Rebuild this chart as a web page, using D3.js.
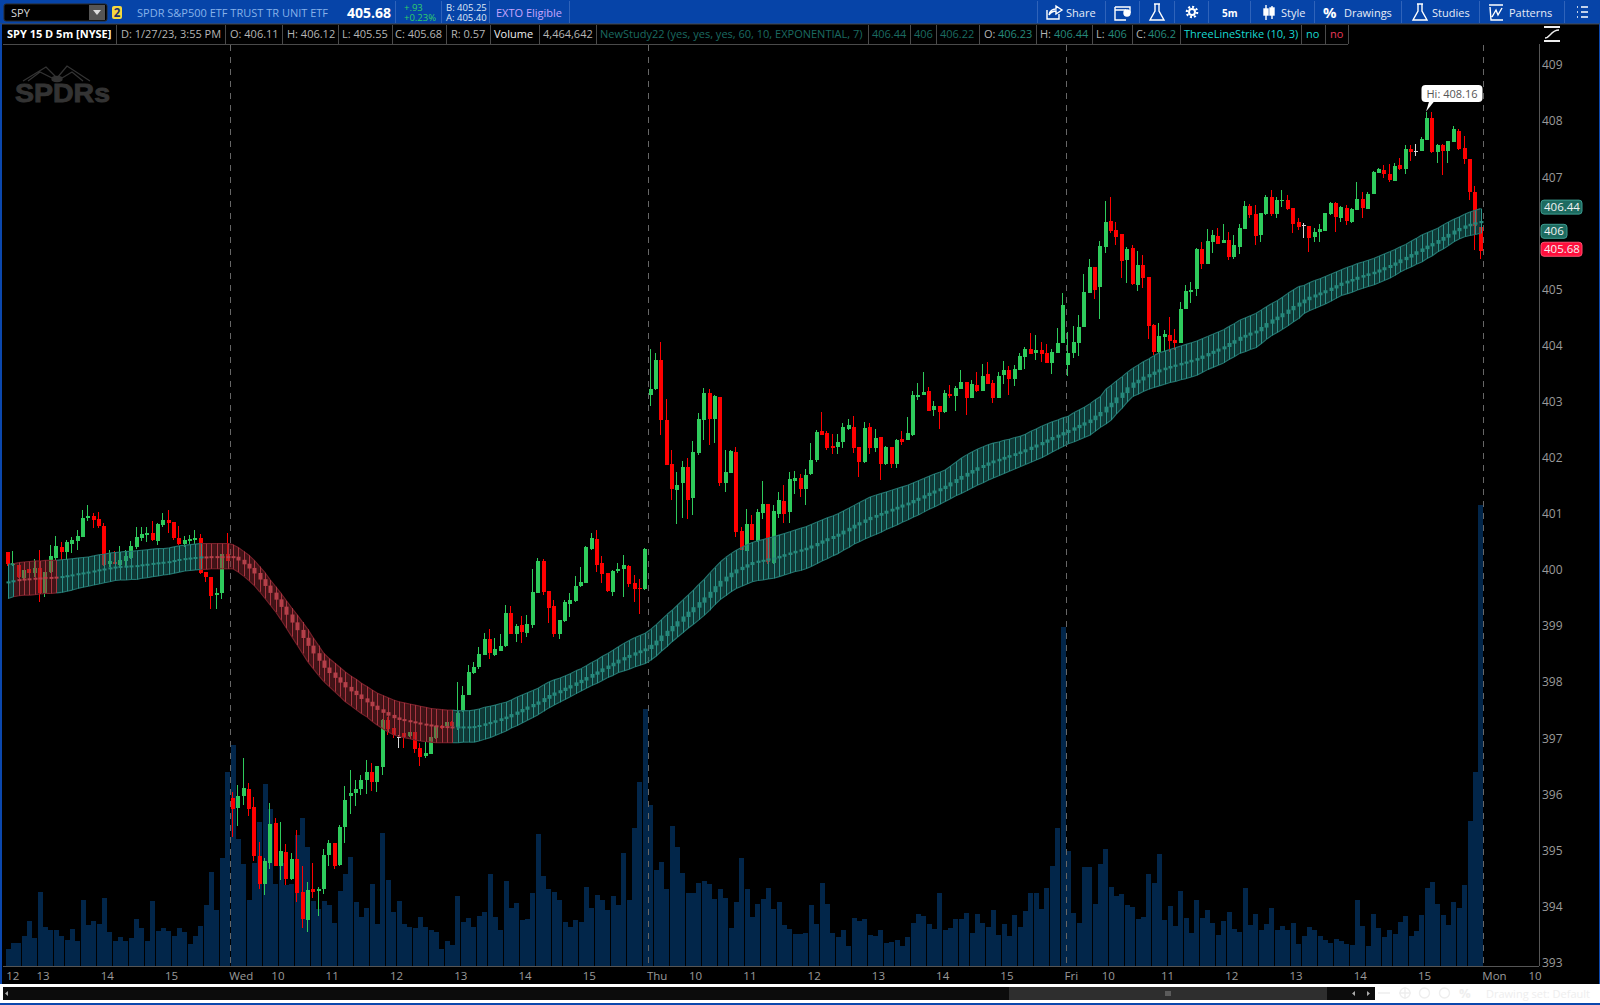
<!DOCTYPE html>
<html>
<head>
<meta charset="utf-8">
<title>SPY 15 D 5m</title>
<script src="https://cdn.jsdelivr.net/npm/d3@7"></script>
<style>
  html, body { margin: 0; padding: 0; background: #000; overflow: hidden; }
  text { font-family: "Open Sans", sans-serif; }
</style>
</head>
<body>
<div id="chart"></div>
<script>
// 5 minute bars, Tuesday afternoon through Friday close
var opens = [
  400.32,400.08,400.09,399.85,400.01,399.94,400.04,399.58,399.97,400.22,
  400.40,400.32,400.46,400.51,400.58,400.92,400.96,400.91,400.78,400.10,
  400.14,400.08,400.15,400.21,400.41,400.57,400.62,400.66,400.51,400.80,
  400.89,400.85,400.57,400.46,400.51,400.53,400.57,399.96,399.87,399.55,
  399.59,400.28,395.94,395.75,395.97,396.09,395.77,394.90,394.40,394.77,
  395.48,394.72,394.97,394.49,394.84,394.26,393.76,394.31,394.27,394.31,
  394.91,395.13,394.74,395.41,395.97,396.02,396.09,396.25,396.39,396.22,
  396.49,397.32,397.19,397.03,397.09,397.04,397.11,396.82,396.68,396.72,
  397.00,397.22,397.22,397.29,397.20,397.49,397.77,398.16,398.27,398.48,
  398.77,398.49,398.55,398.64,399.23,398.85,399.02,398.87,399.02,399.59,
  400.16,399.62,399.35,398.85,399.09,399.39,399.44,399.71,399.76,400.37,
  400.55,400.12,399.94,399.60,399.98,400.01,400.07,399.76,399.67,399.66,
  403.11,403.22,403.74,402.67,401.88,401.42,401.55,401.83,401.28,402.08,
  402.67,403.15,402.69,403.08,401.55,401.72,402.10,400.69,400.33,400.81,
  400.51,401.01,401.17,400.13,401.00,401.22,401.03,401.58,401.63,401.44,
  401.71,401.96,402.47,402.44,402.20,402.19,402.28,402.52,402.54,402.19,
  401.92,402.54,402.17,402.37,401.88,402.19,401.88,402.33,402.32,402.41,
  403.08,403.12,403.19,402.85,402.92,402.82,403.14,403.10,403.23,403.35,
  403.07,403.30,403.19,403.49,403.34,403.07,403.47,403.56,403.40,403.56,
  403.80,403.94,403.87,403.92,403.87,403.69,403.87,404.05,403.65,403.87,
  404.05,404.33,404.94,405.40,405.04,405.76,406.22,406.06,405.99,405.52,
  405.74,405.08,405.44,405.22,404.37,403.88,404.15,404.19,404.10,404.05,
  404.65,404.95,405.01,405.72,405.45,405.85,405.95,405.83,405.88,405.58,
  405.76,406.08,406.49,406.34,405.97,406.34,406.65,406.34,406.58,406.59,
  406.45,406.20,406.15,406.13,405.93,406.02,406.04,406.34,406.54,406.27,
  406.45,406.20,406.41,406.61,406.43,406.70,407.07,407.13,407.06,406.93,
  407.22,407.15,407.50,407.47,407.47,407.66,408.05,407.45,407.57,407.47,
  407.63,407.82,407.52,407.32,406.74,406.11
];
var highs = [
  400.32,400.33,400.09,400.00,400.01,400.19,400.35,399.96,400.44,400.60,
  400.50,400.53,400.58,400.71,401.07,401.15,401.01,401.04,400.83,400.35,
  400.33,400.42,400.36,400.51,400.76,400.76,400.76,400.88,400.83,401.01,
  401.07,400.85,400.79,400.60,400.63,400.72,400.64,399.96,399.87,399.67,
  400.28,400.65,396.04,396.16,396.65,396.21,395.96,395.15,394.87,395.85,
  395.57,395.50,395.12,394.96,395.37,394.73,394.43,394.78,394.34,395.03,
  395.19,395.13,395.46,396.14,396.43,396.26,396.34,396.62,396.55,396.50,
  397.35,397.38,397.19,397.05,397.09,397.11,397.11,396.91,396.93,397.02,
  397.22,397.23,397.29,397.30,398.00,397.93,398.31,398.36,398.63,398.88,
  398.94,398.79,398.85,399.37,399.35,399.03,399.18,399.19,400.01,400.21,
  400.19,399.62,399.47,399.10,399.46,399.59,399.90,400.05,400.43,400.65,
  400.71,400.24,399.94,400.00,400.13,400.27,400.08,399.91,399.83,400.39,
  403.93,403.87,404.07,403.05,402.13,401.75,401.94,402.00,402.29,402.79,
  403.25,403.23,403.11,403.08,402.13,402.13,402.19,400.76,401.08,400.98,
  401.08,401.59,401.17,401.15,401.38,401.52,401.74,401.76,401.71,401.79,
  402.27,402.50,402.82,402.48,402.43,402.43,402.62,402.69,402.75,402.19,
  402.64,402.61,402.52,402.37,402.20,402.19,402.33,402.47,402.72,403.19,
  403.33,403.52,403.26,403.01,402.92,403.20,403.29,403.28,403.56,403.35,
  403.39,403.52,403.67,403.71,403.39,403.52,403.73,403.64,403.65,403.87,
  403.98,404.22,404.19,404.07,404.03,403.94,404.31,404.93,404.24,404.35,
  404.54,405.27,405.54,405.40,405.86,406.58,406.64,406.21,405.99,405.75,
  405.79,405.69,405.61,405.22,404.38,404.40,404.28,404.50,404.29,404.78,
  405.07,405.14,405.74,405.84,406.07,406.06,406.09,406.16,406.02,405.97,
  406.16,406.57,406.52,406.50,406.37,406.68,406.77,406.65,406.77,406.68,
  406.45,406.27,406.18,406.13,406.09,406.17,406.37,406.55,406.55,406.49,
  406.50,406.45,406.91,406.73,406.74,407.11,407.16,407.22,407.23,407.26,
  407.34,407.57,407.57,407.59,407.72,408.17,408.17,407.60,407.59,407.64,
  407.91,407.86,407.73,407.32,406.84,406.12
];
var lows = [
  400.07,400.07,399.85,399.84,399.94,399.88,399.43,399.51,399.95,400.17,
  400.17,400.17,400.31,400.36,400.58,400.88,400.75,400.74,400.07,400.06,
  400.10,400.04,400.06,400.19,400.38,400.51,400.50,400.52,400.45,400.77,
  400.66,400.53,400.45,400.41,400.46,400.47,399.92,399.79,399.30,399.30,
  399.48,400.16,395.23,395.44,395.81,395.62,394.81,394.31,394.21,394.67,
  394.72,394.47,394.38,394.47,394.08,393.61,393.55,394.15,393.83,394.22,
  394.72,394.66,394.72,395.13,395.64,395.79,395.99,396.00,396.06,396.04,
  396.34,397.05,397.01,396.83,396.83,397.03,396.74,396.51,396.65,396.71,
  396.98,397.17,397.22,397.21,397.15,397.47,397.77,398.15,398.24,398.48,
  398.42,398.47,398.55,398.63,398.85,398.72,398.69,398.81,398.97,399.59,
  399.56,399.06,398.80,398.77,399.07,399.16,399.42,399.70,399.76,400.35,
  399.97,399.77,399.60,399.53,399.94,399.51,399.70,399.43,399.22,399.65,
  402.92,403.21,402.41,401.87,401.24,400.81,400.92,400.90,400.97,402.04,
  402.31,402.23,402.26,401.49,401.39,401.72,400.58,400.35,400.33,400.53,
  400.50,400.90,400.11,400.11,400.93,400.83,400.84,401.36,401.30,401.15,
  401.69,401.93,402.40,402.13,402.07,402.06,402.18,402.50,402.09,401.65,
  401.90,402.07,402.10,401.60,401.87,401.81,401.81,402.23,402.32,402.38,
  403.02,403.12,402.83,402.74,402.51,402.79,403.06,402.84,403.22,402.77,
  403.06,403.18,403.19,403.31,402.97,403.06,403.31,403.12,403.27,403.56,
  403.59,403.85,403.74,403.71,403.68,403.49,403.86,404.04,403.45,403.77,
  403.82,404.33,404.93,404.82,404.48,405.64,406.01,405.79,405.20,405.11,
  405.08,404.98,405.02,404.11,403.83,403.87,403.89,403.89,403.92,404.04,
  404.65,404.75,404.89,405.37,405.45,405.64,405.81,405.82,405.52,405.54,
  405.63,406.07,406.27,405.80,405.85,406.33,406.31,406.28,406.46,406.41,
  406.00,406.05,405.92,405.66,405.84,405.84,406.04,406.33,406.02,406.20,
  406.14,406.18,406.41,406.27,406.43,406.70,407.07,406.99,406.92,406.93,
  407.13,407.06,407.29,407.37,407.47,407.66,407.43,407.25,407.04,407.25,
  407.63,407.48,407.23,406.59,405.70,405.55
];
var closes = [
  400.10,400.12,399.88,400.00,399.95,400.04,399.58,399.96,400.25,400.42,
  400.32,400.50,400.53,400.60,400.92,400.96,400.89,400.78,400.09,400.16,
  400.11,400.17,400.25,400.42,400.58,400.64,400.66,400.53,400.82,400.89,
  400.83,400.57,400.46,400.53,400.55,400.57,399.94,399.87,399.53,399.59,
  400.28,400.16,395.74,395.97,396.11,395.74,394.90,394.40,394.81,395.47,
  394.72,394.99,394.49,394.84,394.24,393.77,394.29,394.26,394.31,394.91,
  395.13,394.72,395.41,395.89,396.02,396.09,396.26,396.39,396.22,396.50,
  397.32,397.17,397.06,397.03,397.03,397.11,396.81,396.66,396.73,397.02,
  397.22,397.18,397.29,397.22,397.45,397.77,398.18,398.27,398.50,398.77,
  398.51,398.59,398.64,399.23,398.85,399.00,398.89,399.03,399.60,400.16,
  399.60,399.32,398.85,399.10,399.42,399.46,399.71,399.78,400.40,400.57,
  400.08,399.92,399.62,399.98,400.01,400.08,399.75,399.66,399.66,400.37,
  403.22,403.74,402.67,401.87,401.44,401.51,401.83,401.24,402.10,402.69,
  403.15,402.69,403.10,401.55,401.74,402.12,400.67,400.35,400.81,400.53,
  401.03,401.17,400.14,401.05,401.24,401.00,401.62,401.63,401.44,401.69,
  401.96,402.45,402.40,402.17,402.17,402.28,402.54,402.58,402.17,401.92,
  402.53,402.17,402.35,401.88,402.19,401.88,402.31,402.28,402.44,403.12,
  403.12,403.17,402.83,402.92,402.82,403.15,403.10,403.24,403.35,403.07,
  403.31,403.19,403.46,403.31,403.07,403.46,403.56,403.40,403.58,403.81,
  403.94,403.85,403.92,403.85,403.69,403.88,404.05,404.72,403.87,404.06,
  404.33,404.95,405.40,404.99,405.77,406.20,406.04,405.93,405.51,405.72,
  405.10,405.44,405.20,404.35,403.88,404.17,404.21,404.08,404.05,404.65,
  404.97,404.99,405.72,405.45,405.86,405.97,405.81,405.88,405.58,405.79,
  406.10,406.49,406.33,405.95,406.36,406.65,406.34,406.59,406.59,406.43,
  406.17,406.11,406.15,405.92,406.02,406.08,406.36,406.54,406.29,406.47,
  406.22,406.43,406.61,406.45,406.70,407.09,407.15,407.06,406.95,407.20,
  407.15,407.50,407.45,407.47,407.68,408.05,407.45,407.57,407.47,407.64,
  407.86,407.50,407.32,406.74,406.13,405.68
];
// volume per bar, thousands of shares
var volumes = [
  165,223,223,291,436,271,717,378,349,349,
  291,252,358,242,639,397,436,407,659,329,
  242,281,242,271,455,368,242,629,339,368,
  339,291,368,329,213,291,387,591,910,542,
  1046,1879,2140,1230,988,639,997,1395,1762,1520,
  794,997,784,794,1269,1433,1152,629,552,629,
  591,416,726,891,1056,620,475,562,794,407,
  1288,833,523,629,407,378,368,475,378,349,
  329,165,242,203,678,426,465,378,484,523,
  891,475,349,823,562,610,445,455,707,1278,
  872,746,717,639,426,378,445,426,765,562,
  688,639,542,678,591,1094,639,1336,1782,2489,
  1559,930,1007,746,1356,1152,901,707,707,804,
  823,794,649,746,659,368,620,1046,746,475,
  600,649,755,552,620,397,358,310,310,320,
  591,407,804,600,320,281,349,194,465,436,
  455,300,291,349,223,232,252,194,281,416,
  504,484,407,358,707,349,368,455,455,513,
  320,504,416,378,542,300,407,291,494,378,
  533,707,707,552,755,968,1336,3283,1114,513,
  416,959,959,600,988,1133,765,678,697,591,
  571,455,475,891,804,1085,445,581,387,726,
  465,320,639,465,542,416,300,436,523,358,
  329,755,397,504,349,407,562,349,387,349,
  416,213,291,378,349,291,252,223,261,242,
  213,203,639,387,194,504,368,281,349,310,
  426,484,291,339,494,755,813,600,494,397,
  620,562,784,1404,1879,4465
];
// NewStudy22 band, high and low of the smoothed average
var bandUpper = [
  400.10,400.11,400.13,400.14,400.15,400.16,400.16,400.17,400.17,400.17,
  400.18,400.19,400.20,400.21,400.22,400.23,400.25,400.27,400.28,400.30,
  400.31,400.32,400.33,400.33,400.34,400.35,400.36,400.37,400.38,400.38,
  400.39,400.41,400.43,400.44,400.45,400.46,400.47,400.47,400.47,400.47,
  400.47,400.47,400.45,400.40,400.33,400.26,400.17,400.06,399.95,399.82,
  399.70,399.58,399.45,399.32,399.20,399.07,398.94,398.79,398.65,398.51,
  398.42,398.34,398.26,398.18,398.11,398.05,397.98,397.92,397.86,397.80,
  397.76,397.72,397.68,397.65,397.63,397.61,397.59,397.57,397.55,397.53,
  397.52,397.51,397.50,397.50,397.49,397.49,397.49,397.50,397.52,397.55,
  397.57,397.59,397.62,397.64,397.68,397.73,397.77,397.81,397.85,397.89,
  397.95,398.00,398.04,398.07,398.11,398.15,398.20,398.24,398.29,398.35,
  398.40,398.46,398.51,398.57,398.63,398.69,398.74,398.79,398.83,398.87,
  398.94,399.02,399.11,399.20,399.28,399.37,399.46,399.55,399.64,399.74,
  399.83,399.94,400.04,400.14,400.22,400.29,400.35,400.40,400.45,400.49,
  400.52,400.54,400.57,400.59,400.62,400.65,400.68,400.71,400.74,400.77,
  400.81,400.85,400.89,400.93,400.96,401.00,401.05,401.10,401.15,401.20,
  401.25,401.30,401.33,401.36,401.39,401.42,401.45,401.48,401.51,401.55,
  401.59,401.63,401.67,401.71,401.74,401.78,401.85,401.92,401.99,402.05,
  402.10,402.15,402.19,402.23,402.26,402.28,402.31,402.33,402.36,402.38,
  402.42,402.47,402.51,402.56,402.60,402.64,402.67,402.71,402.74,402.80,
  402.85,402.90,402.96,403.03,403.09,403.22,403.29,403.37,403.44,403.52,
  403.59,403.65,403.71,403.76,403.82,403.87,403.90,403.93,403.96,403.99,
  404.02,404.05,404.08,404.12,404.16,404.20,404.24,404.28,404.34,404.39,
  404.45,404.49,404.53,404.57,404.63,404.69,404.75,404.80,404.86,404.93,
  404.99,405.05,405.07,405.12,405.16,405.19,405.23,405.27,405.31,405.35,
  405.39,405.42,405.46,405.49,405.52,405.55,405.59,405.63,405.67,405.71,
  405.76,405.80,405.86,405.91,405.97,406.01,406.05,406.09,406.15,406.20,
  406.25,406.29,406.34,406.38,406.41,406.44
];
var bandLower = [
  399.49,399.52,399.54,399.55,399.55,399.56,399.57,399.58,399.58,399.59,
  399.60,399.62,399.64,399.67,399.69,399.71,399.73,399.75,399.77,399.79,
  399.81,399.82,399.82,399.83,399.83,399.85,399.86,399.88,399.89,399.91,
  399.92,399.94,399.96,399.98,399.99,400.00,400.01,400.01,400.02,400.02,
  400.02,400.02,400.02,399.96,399.89,399.81,399.72,399.61,399.49,399.37,
  399.25,399.11,398.96,398.81,398.66,398.51,398.36,398.24,398.12,398.01,
  397.92,397.83,397.74,397.65,397.58,397.51,397.44,397.38,397.30,397.23,
  397.17,397.11,397.06,397.03,397.01,396.99,396.97,396.95,396.94,396.93,
  396.92,396.92,396.92,396.92,396.92,396.93,396.93,396.93,396.95,396.98,
  397.01,397.05,397.09,397.13,397.18,397.22,397.27,397.32,397.37,397.42,
  397.48,397.54,397.59,397.64,397.69,397.74,397.79,397.84,397.89,397.94,
  397.98,398.03,398.08,398.12,398.17,398.20,398.23,398.27,398.30,398.33,
  398.39,398.46,398.55,398.63,398.72,398.80,398.88,398.96,399.03,399.11,
  399.19,399.28,399.38,399.47,399.54,399.61,399.67,399.71,399.75,399.79,
  399.81,399.82,399.84,399.85,399.88,399.91,399.94,399.97,399.99,400.02,
  400.06,400.11,400.16,400.20,400.25,400.29,400.35,400.40,400.46,400.50,
  400.55,400.59,400.63,400.67,400.72,400.76,400.80,400.85,400.89,400.94,
  400.98,401.03,401.08,401.12,401.17,401.22,401.27,401.32,401.36,401.41,
  401.46,401.51,401.55,401.60,401.64,401.68,401.72,401.76,401.80,401.84,
  401.88,401.92,401.96,402.00,402.05,402.10,402.15,402.20,402.25,402.28,
  402.32,402.36,402.40,402.47,402.54,402.60,402.67,402.78,402.88,402.99,
  403.09,403.13,403.18,403.22,403.25,403.28,403.31,403.34,403.36,403.39,
  403.41,403.44,403.47,403.52,403.57,403.61,403.65,403.69,403.75,403.80,
  403.86,403.89,403.93,403.96,404.03,404.11,404.18,404.23,404.29,404.35,
  404.42,404.48,404.57,404.62,404.66,404.70,404.74,404.79,404.84,404.89,
  404.92,404.95,404.99,405.02,405.05,405.08,405.12,405.16,405.20,405.25,
  405.31,405.36,405.40,405.45,405.49,405.55,405.60,405.67,405.72,405.78,
  405.85,405.90,405.94,405.96,405.98,406.00
];
// runs of bars where the band is falling (drawn red), first and last bar
var bandFalling = [[2, 9], [37, 83]];

// right axis and bottom time axis, 406 is hidden by the bubble so it's left out
var priceTicks = [393,394,395,396,397,398,399,400,401,402,403,404,405,407,408,409];
var timeTickBars = [-6,6,18,30,42,48,60,72,84,96,108,120,126,138,150,162,174,186,198,204,216,228,240,252,264,276,282];
var timeTickLabels = ["12","13","14","15","Wed","10","11","12","13","14","15","Thu","10","11","12","13","14","15","Fri","10","11","12","13","14","15","Mon","10"];
var sessionStarts = [42, 120, 198, 276];

// header strip and the study readout row
var headerCells = [
  { x: 7, t: "SPY 15 D 5m [NYSE]", c: "#fff", b: 1 },
  { x: 121, t: "D: 1/27/23, 3:55 PM", c: "#b5b5b5" },
  { x: 230, t: "O: 406.11", c: "#b5b5b5" },
  { x: 287, t: "H: 406.12", c: "#b5b5b5" },
  { x: 342, t: "L: 405.55", c: "#b5b5b5" },
  { x: 395, t: "C: 405.68", c: "#b5b5b5" },
  { x: 451, t: "R: 0.57", c: "#b5b5b5" },
  { x: 494, t: "Volume", c: "#eee" },
  { x: 543, t: "4,464,642", c: "#b5b5b5" },
  { x: 600, t: "NewStudy22 (yes, yes, yes, 60, 10, EXPONENTIAL, 7)", c: "#1b6a60" },
  { x: 872, t: "406.44", c: "#1b6a60" },
  { x: 914, t: "406", c: "#1b6a60" },
  { x: 940, t: "406.22", c: "#1b6a60" },
  { x: 984, t: "O:", c: "#b5b5b5" },
  { x: 998, t: "406.23", c: "#26897c" },
  { x: 1040, t: "H:", c: "#b5b5b5" },
  { x: 1054, t: "406.44", c: "#26897c" },
  { x: 1096, t: "L:", c: "#b5b5b5" },
  { x: 1108, t: "406", c: "#26897c" },
  { x: 1136, t: "C:", c: "#b5b5b5" },
  { x: 1148, t: "406.2", c: "#26897c" },
  { x: 1184, t: "ThreeLineStrike (10, 3)", c: "#19d8d2" },
  { x: 1306, t: "no", c: "#19d8d2" },
  { x: 1330, t: "no", c: "#e8385a" }
];
var headerSeps = [116,225,282,338,392,446,490,539,596,868,910,936,979,1036,1092,1132,1180,1301,1325,1348];
var toolbarSeps = [395,441,489,569,1037,1105,1139,1174,1208,1250,1314,1401,1479,1564];
var toolbarLabels = [
  { x: 1066, t: "Share" }, { x: 1281, t: "Style" }, { x: 1344, t: "Drawings" },
  { x: 1432, t: "Studies" }, { x: 1509, t: "Patterns" }
];

var svgWidth = 1600;
var svgHeight = 1005;
var svg = d3.select("#chart").append("svg")
  .attr("width", svgWidth)
  .attr("height", svgHeight)
  .style("display", "block")
  .style("background", "#000");

var barIndex = d3.range(opens.length);
var xScale = d3.scaleLinear().domain([0, 276]).range([8, 8 + 5.355 * 276]);
var yScale = d3.scaleLinear().domain([393, 409]).range([962.6, 65]);
// last volume bar (4,464,642) tops out at y=505
var volScale = d3.scaleLinear().domain([0, 4465]).range([966, 505]);

// volume first so it sits behind everything
svg.append("g").attr("shape-rendering", "crispEdges")
  .selectAll("rect").data(barIndex).enter().append("rect")
  .attr("x", d => Math.round(xScale(d) - 2.4))
  .attr("width", 5)
  .attr("y", d => volScale(volumes[d]))
  .attr("height", d => 966 - volScale(volumes[d]))
  .attr("fill", "#02264a");

// session dividers
svg.append("g").selectAll("line").data(sessionStarts).enter().append("line")
  .attr("x1", d => Math.round(xScale(d - 0.5)) + 0.5).attr("x2", d => Math.round(xScale(d - 0.5)) + 0.5)
  .attr("y1", 45).attr("y2", 966)
  .attr("stroke", "#666").attr("stroke-width", 1)
  .attr("stroke-dasharray", "6,6");

// candles
function candleColor(d) {
  if (opens[d] === closes[d]) return "#d8d8d8";
  return closes[d] > opens[d] ? "#2ecb5c" : "#ff0000";
}
var candles = svg.append("g").attr("shape-rendering", "crispEdges");
candles.selectAll("line").data(barIndex).enter().append("line")
  .attr("x1", d => Math.round(xScale(d) - 2) + 1.5).attr("x2", d => Math.round(xScale(d) - 2) + 1.5)
  .attr("y1", d => yScale(highs[d])).attr("y2", d => yScale(lows[d]))
  .attr("stroke", candleColor).attr("stroke-width", 1);
candles.selectAll("rect").data(barIndex).enter().append("rect")
  .attr("x", d => Math.round(xScale(d) - 2))
  .attr("width", 4)
  .attr("y", d => yScale(Math.max(opens[d], closes[d])))
  .attr("height", d => Math.max(1, Math.abs(yScale(opens[d]) - yScale(closes[d]))))
  .attr("fill", candleColor);

// band: cloud, outline, one rib per bar, small marker on the midpoint
function isFalling(d) {
  return bandFalling.some(r => d >= r[0] && d <= r[1]);
}
var bandMid = barIndex.map(d => (bandUpper[d] + bandLower[d]) / 2);
var teal = { fill: "#1f7a72", edge: "#25756f", rib: "#2b9088", mark: "#26897c" };
var red = { fill: "#8a2730", edge: "#77202a", rib: "#a83540", mark: "#b5404a" };

var bandArea = d3.area()
  .x(d => xScale(d))
  .y0(d => yScale(bandLower[d]))
  .y1(d => yScale(bandUpper[d]));
var upperLine = d3.line().x(d => xScale(d)).y(d => yScale(bandUpper[d]));
var lowerLine = d3.line().x(d => xScale(d)).y(d => yScale(bandLower[d]));

var bandG = svg.append("g");
barIndex.slice(1).forEach(function(d) {
  var pal = isFalling(d) ? red : teal;
  var seg = [d - 1, d];
  bandG.append("path").attr("d", bandArea(seg))
    .attr("fill", pal.fill).attr("fill-opacity", 0.48);
  bandG.append("path").attr("d", upperLine(seg))
    .attr("fill", "none").attr("stroke", pal.edge).attr("stroke-width", 1.1);
  bandG.append("path").attr("d", lowerLine(seg))
    .attr("fill", "none").attr("stroke", pal.edge).attr("stroke-width", 1.1);
});
bandG.selectAll("line.rib").data(barIndex).enter().append("line")
  .attr("class", "rib")
  .attr("x1", d => Math.round(xScale(d)) + 0.5).attr("x2", d => Math.round(xScale(d)) + 0.5)
  .attr("y1", d => yScale(bandUpper[d])).attr("y2", d => yScale(bandLower[d]))
  .attr("stroke", d => isFalling(d) ? red.rib : teal.rib)
  .attr("stroke-width", 1);
bandG.selectAll("rect.mark").data(barIndex).enter().append("rect")
  .attr("class", "mark")
  .attr("x", d => Math.round(xScale(d)) - 1.5)
  .attr("width", 4)
  .attr("y", d => {
    var prev = d > 0 ? bandMid[d - 1] : bandMid[d];
    return yScale(Math.max(prev, bandMid[d]));
  })
  .attr("height", d => {
    var prev = d > 0 ? bandMid[d - 1] : bandMid[d];
    return Math.max(2, Math.abs(yScale(prev) - yScale(bandMid[d])) * 0.9 + 1);
  })
  .attr("fill", d => isFalling(d) ? red.mark : teal.mark);

// price axis
var rightAxis = d3.axisRight(yScale).tickValues(priceTicks).tickSize(0).tickPadding(3).tickFormat(d3.format("d"));
var axisG = svg.append("g").attr("transform", "translate(1539,0)").call(rightAxis);
axisG.select(".domain").attr("stroke", "#555").attr("d", "M0.5,44V966");
axisG.selectAll("text").attr("fill", "#9a9a9a").attr("font-size", 12).style("font-family", '"Open Sans", sans-serif');

// time axis, labels get nudged where they would collide
svg.append("line").attr("x1", 3).attr("x2", 1539).attr("y1", 966.5).attr("y2", 966.5).attr("stroke", "#555");
var labelNudge = { 0: 33, 5: 9, 12: 9, 19: 4, 26: 13 };
svg.append("g").selectAll("text").data(timeTickLabels).enter().append("text")
  .attr("x", (d, i) => xScale(timeTickBars[i] - 0.5) + (labelNudge[i] || -1))
  .attr("y", 980)
  .attr("fill", "#9a9a9a")
  .attr("font-size", 11.5)
  .text(d => d);

// bubbles on the price axis
var bubbles = [
  { v: 406.44, t: "406.44", w: 41, fill: "#1d6b60", nudge: -1.5 },
  { v: 406, t: "406", w: 26, fill: "#1d6b60", nudge: -2 },
  { v: 405.68, t: "405.68", w: 41, fill: "#ff0f3c", nudge: -2 }
];
bubbles.forEach(function(b) {
  var cy = yScale(b.v) + b.nudge;
  svg.append("rect").attr("x", 1541).attr("y", cy - 7).attr("width", b.w).attr("height", 14)
    .attr("rx", 3).attr("fill", b.fill).attr("stroke", b.fill === "#ff0f3c" ? "#ff5070" : "#3c9d90");
  svg.append("text").attr("x", 1544).attr("y", cy + 4).attr("fill", "#f2f2f2").attr("font-size", 11.5).text(b.t);
});

// high callout on the top wick
var hiBar = 265;
var hiX = xScale(hiBar) - 1, hiY = yScale(highs[hiBar]);
svg.append("path")
  .attr("d", `M${hiX},${hiY} L${hiX + 3},${hiY - 10} L${hiX + 8},${hiY - 10} Z`)
  .attr("fill", "#fff");
svg.append("rect").attr("x", 1421.5).attr("y", 85).attr("width", 61).attr("height", 17).attr("rx", 4).attr("fill", "#fff");
svg.append("text").attr("x", 1452).attr("y", 97.5).attr("text-anchor", "middle")
  .attr("font-size", 11).attr("fill", "#555").text("Hi: 408.16");

// SPDRs watermark
var mark = svg.append("g").attr("stroke", "#333").attr("stroke-width", 1.3).attr("fill", "none");
mark.append("path").attr("d", "M57,78 L46,67 L23,81 M52,78 L40,72 L28,81 M57,78 L67,66 L90,81 M62,78 L72,72 L83,81");
mark.append("ellipse").attr("cx", 57).attr("cy", 79).attr("rx", 5).attr("ry", 2.5).attr("fill", "#333");
svg.append("text").attr("x", 15).attr("y", 102)
  .style("font-family", '"Liberation Sans", sans-serif').attr("font-weight", 700).attr("font-size", 26)
  .attr("textLength", 95).attr("lengthAdjust", "spacingAndGlyphs")
  .attr("fill", "#333").attr("stroke", "#333").attr("stroke-width", 0.9).text("SPDRs");

// readout row
var row = svg.append("g");
row.append("rect").attr("x", 0).attr("y", 24).attr("width", 1539).attr("height", 21).attr("fill", "#000");
row.append("line").attr("x1", 3).attr("x2", 1348).attr("y1", 44.5).attr("y2", 44.5).attr("stroke", "#4a4a4a");
row.selectAll("line.sep").data(headerSeps).enter().append("line").attr("class", "sep")
  .attr("x1", d => d + 0.5).attr("x2", d => d + 0.5).attr("y1", 25).attr("y2", 44)
  .attr("stroke", "#4a4a4a");
row.selectAll("text").data(headerCells).enter().append("text")
  .attr("x", d => d.x).attr("y", 38)
  .attr("font-size", 11)
  .attr("font-weight", d => d.b ? 700 : 400)
  .attr("fill", d => d.c)
  .text(d => d.t);

// toolbar
var bar = svg.append("g");
bar.append("rect").attr("x", 0).attr("y", 0).attr("width", 1600).attr("height", 24).attr("fill", "#0644a8");
bar.append("line").attr("x1", 0).attr("x2", 1600).attr("y1", 24).attr("y2", 24).attr("stroke", "#4b4b4b");
bar.selectAll("line.sep").data(toolbarSeps).enter().append("line").attr("class", "sep")
  .attr("x1", d => d + 0.5).attr("x2", d => d + 0.5).attr("y1", 1).attr("y2", 23)
  .attr("stroke", "#2f63ba");
bar.append("rect").attr("x", 4).attr("y", 4).attr("width", 103).attr("height", 17).attr("rx", 2).attr("fill", "#000").attr("stroke", "#2b2b2b");
bar.append("text").attr("x", 11).attr("y", 17).attr("font-size", 11).attr("fill", "#d8d8d8").text("SPY");
bar.append("rect").attr("x", 89).attr("y", 5).attr("width", 16).attr("height", 15).attr("fill", "#555");
bar.append("path").attr("d", "M93,10 L101,10 L97,15 Z").attr("fill", "#ddd");
bar.append("rect").attr("x", 112).attr("y", 6).attr("width", 10).attr("height", 13).attr("rx", 2).attr("fill", "#f6d83e");
bar.append("text").attr("x", 117).attr("y", 17).attr("text-anchor", "middle").attr("font-size", 11.5).attr("font-weight", 700).attr("fill", "#20306a").text("2");
bar.append("text").attr("x", 137).attr("y", 16.5).attr("font-size", 11).attr("fill", "#86b2ea").text("SPDR S&P500 ETF TRUST TR UNIT ETF");
bar.append("text").attr("x", 347).attr("y", 18).attr("font-size", 14).attr("font-weight", 700).attr("fill", "#fff").text("405.68");
var changeText = bar.append("text").attr("font-size", 9.5).attr("fill", "#2fcf6a");
changeText.append("tspan").attr("x", 404).attr("y", 11).text("+.93");
changeText.append("tspan").attr("x", 404).attr("y", 20.5).text("+0.23%");
var quoteText = bar.append("text").attr("font-size", 9.5).attr("fill", "#dfe7f5");
quoteText.append("tspan").attr("x", 446).attr("y", 11).text("B: 405.25");
quoteText.append("tspan").attr("x", 446).attr("y", 20.5).text("A: 405.40");
bar.append("text").attr("x", 496).attr("y", 16.5).attr("font-size", 11).attr("fill", "#c7a6ff").text("EXTO Eligible");
bar.append("text").attr("x", 1222).attr("y", 16.5).attr("font-size", 10).attr("font-weight", 700).attr("fill", "#fff").text("5m");
bar.selectAll("text.tool").data(toolbarLabels).enter().append("text").attr("class", "tool")
  .attr("x", d => d.x).attr("y", 16.5).attr("font-size", 11).attr("fill", "#e6ecf7").text(d => d.t);
bar.append("text").attr("x", 1323).attr("y", 18).attr("font-size", 15).attr("font-weight", 700).attr("fill", "#fff").text("%");

// toolbar icons, rough shapes
var icons = bar.append("g").attr("fill", "none").attr("stroke", "#fff").attr("stroke-width", 1.4);
icons.append("path").attr("d", "M1047,10 V19 H1059 V14 M1049,15 C1050,10 1053,9 1056,9 V6 L1062,10 L1056,14 V11 C1053,11 1051,12 1049,15");
icons.append("path").attr("d", "M1115,7 H1130 V13 M1115,7 V20 H1126 M1115,10 H1126");
icons.append("circle").attr("cx", 1127).attr("cy", 13).attr("r", 3).attr("fill", "#fff");
[1157, 1420].forEach(function(cx) {
  icons.append("path").attr("d", `M${cx - 2},4 V11 L${cx - 7},20 H${cx + 7} L${cx + 2},11 V4 M${cx - 3},4 H${cx + 3}`);
});
icons.append("circle").attr("cx", 1192).attr("cy", 12).attr("r", 5.2).attr("stroke-width", 2.2).attr("stroke-dasharray", "2,2");
icons.append("circle").attr("cx", 1192).attr("cy", 12).attr("r", 3).attr("stroke-width", 2);
icons.append("path").attr("d", "M1266,5 V20 M1272,6 V19");
icons.append("rect").attr("x", 1264).attr("y", 9).attr("width", 4).attr("height", 6).attr("fill", "#fff");
icons.append("rect").attr("x", 1270).attr("y", 8).attr("width", 4).attr("height", 7).attr("fill", "#fff");
icons.append("path").attr("d", "M1489,5 H1503 M1490,7 L1491,20 H1503 M1492,17 L1496,10 L1498,15 L1502,8");
icons.append("path").attr("d", "M1581,7 H1588 M1581,12 H1588 M1581,17 H1588");
icons.append("path").attr("d", "M1577,7 H1578 M1577,12 H1578 M1577,17 H1578");

// study icon over the price axis
var studyIcon = svg.append("g").attr("fill", "none").attr("stroke", "#eee").attr("stroke-width", 1.4);
studyIcon.append("path").attr("d", "M1544,27 H1560 M1544,41 H1560").attr("stroke-width", 2);
studyIcon.append("path").attr("d", "M1545,38 C1550,38 1551,30 1559,30");

// chart frame and scrollbar strip
svg.append("rect").attr("x", 0).attr("y", 24).attr("width", 2).attr("height", 960).attr("fill", "#0b47ad");
svg.append("rect").attr("x", 0).attr("y", 984).attr("width", 1600).attr("height", 19).attr("fill", "#fff");
svg.append("rect").attr("x", 3).attr("y", 987).attr("width", 1372).attr("height", 13).attr("fill", "#0c0c0c");
svg.append("rect").attr("x", 1009).attr("y", 987).attr("width", 318).attr("height", 13).attr("fill", "#2e2e2e");
svg.append("path").attr("d", "M1166,991 V996 M1168,991 V996 M1170,991 V996").attr("stroke", "#888");
svg.append("path").attr("d", "M8,991 V996 L5,993.5 Z M1355,991 V996 L1352,993.5 Z M1367,991 V996 L1370,993.5 Z").attr("fill", "#aaa");
// faint toolbar icons on the white strip
var faint = svg.append("g").attr("fill", "none").attr("stroke", "#eeeeee").attr("stroke-width", 1.4);
faint.append("path").attr("d", "M1378,993 H1390 M1405,987 V999 M1399,993 H1411");
[1405, 1424.5, 1444.5].forEach(function(cx) {
  faint.append("circle").attr("cx", cx).attr("cy", 993).attr("r", 5);
});
svg.append("text").attr("x", 1459).attr("y", 998).attr("font-size", 13).attr("font-weight", 700).attr("fill", "#eeeeee").text("%");
svg.append("text").attr("x", 1486).attr("y", 998).attr("font-size", 11).attr("fill", "#eeeeee").text("Drawing set: Default");
svg.append("rect").attr("x", 0).attr("y", 1003).attr("width", 1600).attr("height", 2).attr("fill", "#0b47ad");
svg.append("rect").attr("x", 1599).attr("y", 24).attr("width", 1).attr("height", 960).attr("fill", "#0b47ad");
</script>
</body>
</html>
